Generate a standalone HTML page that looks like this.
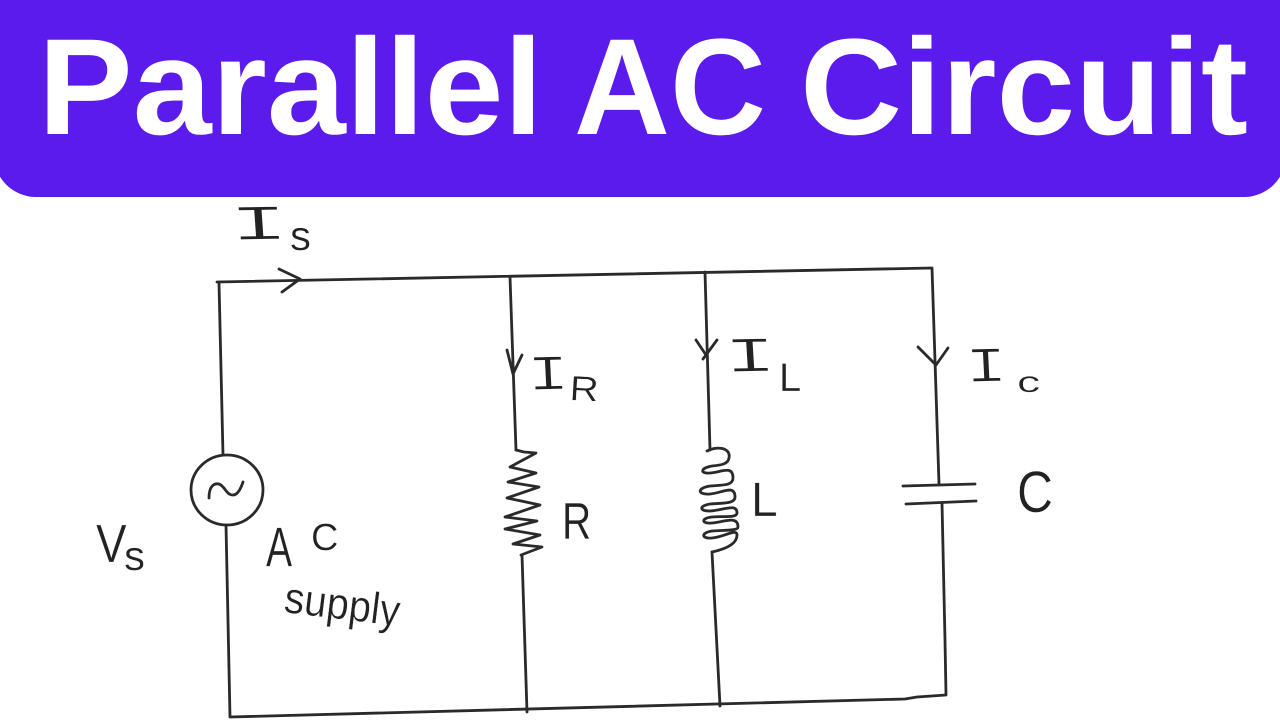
<!DOCTYPE html>
<html lang="en">
<head>
<meta charset="utf-8">
<title>Parallel AC Circuit</title>
<style>
html,body{margin:0;padding:0;background:#fff;width:1280px;height:720px;overflow:hidden}
svg{display:block}
.w{fill:none;stroke:#2a2a2a;stroke-width:2.8;stroke-linecap:round;stroke-linejoin:round}
.h{font-family:"Liberation Sans",sans-serif;fill:#222;stroke:#fff;stroke-width:.35}
.m{font-family:"Liberation Mono",monospace;fill:#222;stroke:#fff;stroke-width:1}
.t{font-family:"Liberation Sans",sans-serif;font-weight:700;font-size:137px;fill:#fff}
</style>
</head>
<body>
<svg width="1280" height="720" viewBox="0 0 1280 720" xmlns="http://www.w3.org/2000/svg">
<rect width="1280" height="720" fill="#fff"/>
<rect x="-6" y="-60" width="1292" height="257" rx="42" ry="42" fill="#5a1bec"/>
<text class="t" x="38" y="134" textLength="505" lengthAdjust="spacingAndGlyphs">Parallel</text>
<text class="t" x="574" y="134" textLength="192" lengthAdjust="spacingAndGlyphs">AC</text>
<text class="t" x="800" y="134" textLength="448" lengthAdjust="spacingAndGlyphs">Circuit</text>

<!-- wires -->
<path class="w" d="M217 282 L932 268 L939 484"/>
<path class="w" d="M219 283 L223 455"/>
<path class="w" d="M226 525 L230 717 L905 699 L917 697 L946 695 L945 640 L942 503"/>
<path class="w" d="M510 277 L516 450"/>
<path class="w" d="M705 272 L710 450"/>
<path class="w" d="M522 555 L527 712"/>
<path class="w" d="M712 552 L720 706"/>

<!-- arrowheads -->
<path class="w" d="M279 269 L300 279 L282 292"/>
<path class="w" d="M507 350 L513 374 L522 355"/>
<path class="w" d="M696 340 L706 355 L717 340 M706 355 L703 359"/>
<path class="w" d="M918 347 L936 365 L948 348"/>

<!-- source -->
<ellipse class="w" cx="227" cy="490" rx="36" ry="35"/>
<path class="w" d="M209 498 C209 486 214 483 219 484 C225 486 226 495 233 495 C238 495 241 488 243 482"/>

<!-- resistor -->
<path class="w" d="M516 450 L524 452 L536 453 L510 467 L536 473 L508 482 L539 487 L507 498 L540 505 L505 517 L537 521 L505 529 L540 535 L513 544 L542 547 L521 555"/>

<!-- inductor -->
<path class="w" d="M707 451 C716 446 731 447 729 458 C728 464 722 465 712 466 C700 468 700 474 710 473 C722 472 733 465 733 478 C733 486 722 485 710 486 C697 488 697 495 710 494 C722 493 735 484 735 497 C735 504 722 503 710 504 C699 506 699 511 710 511 C724 510 737 503 737 513 C737 518 724 516 712 517 C701 518 701 524 712 523 C724 522 738 515 738 527 C738 531 724 530 712 531 C700 533 702 539 712 538 C724 537 737 528 737 535 C737 544 726 549 712 552"/>

<!-- capacitor -->
<path class="w" d="M903 486 L975 484 M906 504 L976 501"/>

<!-- labels -->
<text class="m" font-size="50" transform="translate(230 240) scale(2 1) rotate(-2)">I</text>
<text class="h" font-size="42" x="290" y="250">s</text>

<text class="m" font-size="50" transform="translate(528 390) scale(1.4 1) rotate(-2)">I</text>
<text class="h" font-size="35" transform="translate(569 400) scale(1.15 1) rotate(3)">R</text>

<text class="m" font-size="50" transform="translate(725 372) scale(1.75 1) rotate(-2)">I</text>
<text class="h" font-size="40" x="779" y="391">L</text>

<text class="m" font-size="50" transform="translate(966 382) scale(1.4 1) rotate(-2)">I</text>
<text class="h" font-size="30" transform="translate(1017 392) scale(1.55 1)">c</text>

<text class="h" font-size="52" transform="translate(562 539) scale(.78 1)">R</text>
<text class="h" font-size="48" x="751" y="516">L</text>
<text class="h" font-size="58" x="1017" y="512" textLength="36" lengthAdjust="spacingAndGlyphs">C</text>

<text class="h" font-size="54" transform="translate(96 562) scale(.85 1)">V</text>
<text class="h" font-size="42" x="124" y="570">s</text>

<text class="h" font-size="56" transform="translate(266 566) scale(.7 1)">A</text>
<text class="h" font-size="38" x="311" y="550">C</text>
<text class="h" font-size="44" x="283" y="612" transform="rotate(7 283 612)" textLength="116" lengthAdjust="spacingAndGlyphs">supply</text>
</svg>
</body>
</html>
